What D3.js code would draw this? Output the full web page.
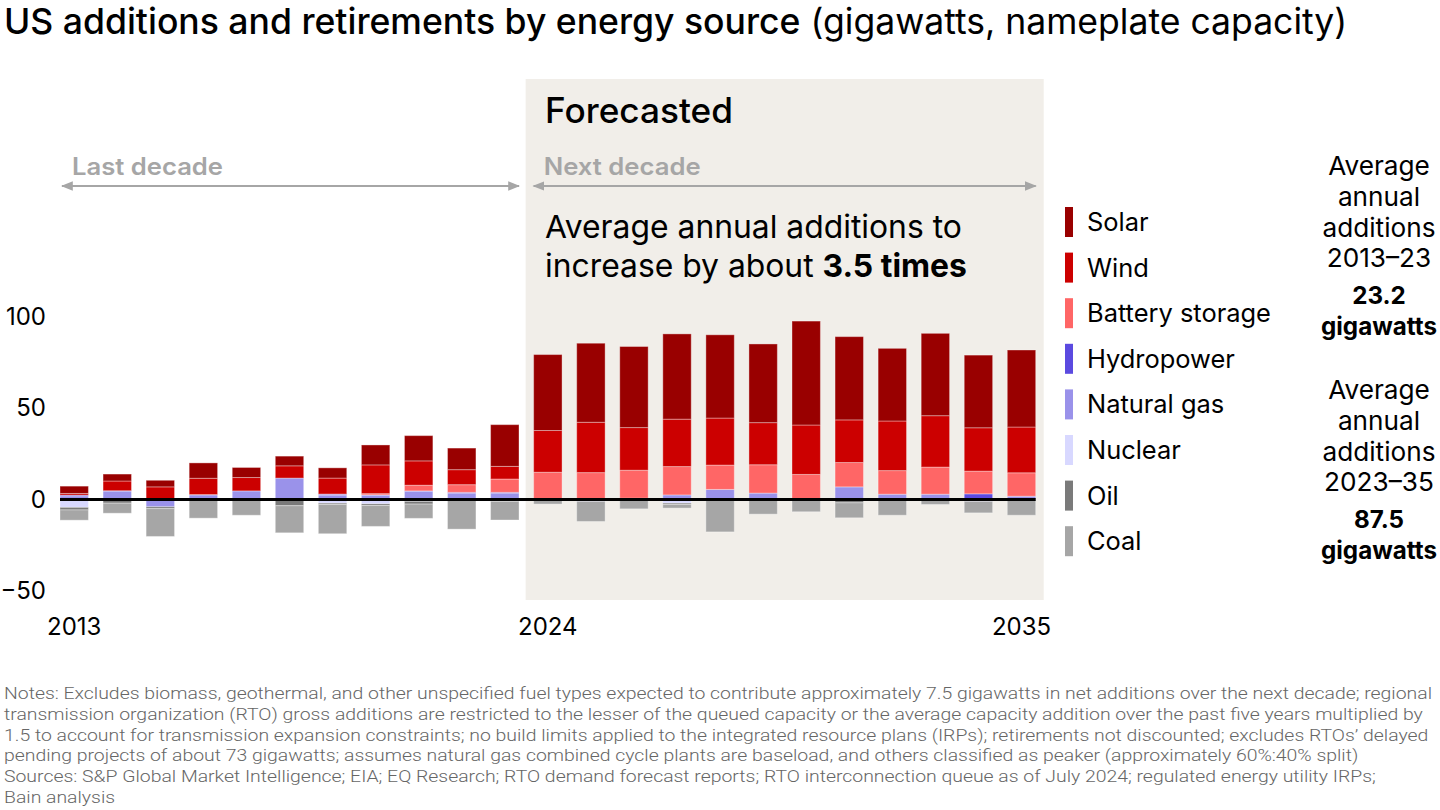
<!DOCTYPE html>
<html>
<head>
<meta charset="utf-8">
<script src="https://cdn.jsdelivr.net/npm/d3@7"></script>
<style>
  body { margin: 0; background: #fff; }
  svg { display: block; font-family: Inter, Roboto, "Noto Sans", sans-serif; }
</style>
</head>
<body>
<script>
// categories
const years = ["2013","2014","2015","2016","2017","2018","2019","2020","2021","2022","2023",
               "2024","2025","2026","2027","2028","2029","2030","2031","2032","2033","2034","2035"];

// net gigawatts per source and year
const solar   = [4.0,3.8,3.6,8.4,5.5,5.3,5.6,10.9,13.8,11.8,22.8, 41.5,43.2,44.3,46.6,45.5,43.0,56.8,45.5,39.7,45.0,39.7,42.1];
const wind    = [0.9,5.3,6.9,8.9,7.3,6.7,8.7,15.7,13.3,8.2,6.9, 22.8,27.5,23.3,25.9,25.7,23.0,27.0,23.3,27.1,28.1,23.7,25.0];
const battery = [0,0,0,0.2,0,0,0.1,0.7,3.1,4.2,7.3, 14.4,14.2,15.3,15.5,13.3,15.5,13.3,13.3,12.9,14.8,12.4,12.8];
const hydro   = [0.4,0.2,0,0,0,0,0.5,0.3,0.3,0.4,0.4, 0.5,0.5,0.7,0,0,0,0,0,0,0,3.1,0];
const gas     = [2.0,4.6,-4.0,2.5,4.7,11.7,2.4,2.2,4.4,3.5,3.5, 0,-1.0,0,2.5,5.5,3.5,0.4,6.9,2.9,2.9,-1.0,1.8];
const nuclear = [-4.3,0,0,0,0,0,-2.0,-2.4,-1.0,0,0, 0,0,0,-2.0,0,0,0,0,0,0,0,0];
const oil     = [-1.4,-2.0,-1.0,0,0,-3.4,-0.7,-0.9,-1.5,0,-1.0, 0,0,0,-0.7,0,0,0,-1.8,0,0,0,0];
const coal    = [-5.6,-5.5,-15.2,-10.2,-8.6,-14.8,-16.0,-11.4,-7.8,-16.2,-10.2, -2.5,-11.0,-5.1,-2.0,-17.7,-8.0,-6.7,-8.2,-8.6,-2.7,-6.3,-8.6];

const sources = ["Solar","Wind","Battery storage","Hydropower","Natural gas","Nuclear","Oil","Coal"];
const values  = [solar, wind, battery, hydro, gas, nuclear, oil, coal];
const colors  = ["#990000","#cc0000","#ff6666","#5b4ae0","#9a92ea","#d8d8ff","#7a7a7a","#a6a6a6"];

const yTicks = [-50, 0, 50, 100];
const xTicks = ["2013","2024","2035"];

const noteLines = [
  "Notes: Excludes biomass, geothermal, and other unspecified fuel types expected to contribute approximately 7.5 gigawatts in net additions over the next decade; regional",
  "transmission organization (RTO) gross additions are restricted to the lesser of the queued capacity or the average capacity addition over the past five years multiplied by",
  "1.5 to account for transmission expansion constraints; no build limits applied to the integrated resource plans (IRPs); retirements not discounted; excludes RTOs\u2019 delayed",
  "pending projects of about 73 gigawatts; assumes natural gas combined cycle plants are baseload, and others classified as peaker (approximately 60%:40% split)",
  "Sources: S&P Global Market Intelligence; EIA; EQ Research; RTO demand forecast reports; RTO interconnection queue as of July 2024; regulated energy utility IRPs;",
  "Bain analysis"
];

const width = 1440, height = 810;
const svg = d3.select("body").append("svg").attr("width", width).attr("height", height);

// scale a text's font size so that it spans the wanted width
function fit(sel, target) {
  const size = +sel.attr("font-size");
  const w = sel.node().getComputedTextLength();
  const s = size * target / w;
  sel.attr("font-size", s);
  return s;
}

const x = d3.scaleBand().domain(years).range([60, 1035.7]).paddingInner(0.34).paddingOuter(0);
const y = d3.scaleLinear().domain([-50, 100]).range([591, 316.5]);

// forecast background
svg.append("rect")
  .attr("x", x("2024") - 8).attr("y", 79)
  .attr("width", x("2035") + x.bandwidth() + 8 - (x("2024") - 8)).attr("height", 521)
  .attr("fill", "#f1eee9");

// title
const title = svg.append("text").attr("x", 4).attr("y", 34).attr("font-size", 30).attr("fill", "#000");
title.append("tspan").attr("font-weight", 500).text("US additions and retirements by energy source");
title.append("tspan").attr("font-weight", 400).text(" (gigawatts, nameplate capacity)");
fit(title, 1344);

fit(svg.append("text").attr("x", 545).attr("y", 123).attr("font-size", 32).attr("font-weight", 500)
  .text("Forecasted"), 188);

// decade arrows
const defs = svg.append("defs");
defs.append("marker").attr("id", "ah").attr("viewBox", "0 0 10 10").attr("refX", 9).attr("refY", 5)
  .attr("markerWidth", 6).attr("markerHeight", 6).attr("orient", "auto-start-reverse")
  .append("path").attr("d", "M0,1 L10,5 L0,9 Z").attr("fill", "#a6a6a6");

const arrows = [
  {label: "Last decade", x1: x("2013") + 2, x2: x("2023") + x.bandwidth(), w: 151},
  {label: "Next decade", x1: x("2024"), x2: x("2035") + x.bandwidth(), w: 157}
];
arrows.forEach(a => {
  svg.append("line").attr("x1", a.x1).attr("x2", a.x2).attr("y1", 186).attr("y2", 186)
    .attr("stroke", "#a6a6a6").attr("stroke-width", 2)
    .attr("marker-start", "url(#ah)").attr("marker-end", "url(#ah)");
  const t = svg.append("text").attr("x", a.x1 + 10).attr("y", 175).attr("font-size", 24).attr("font-weight", 600)
    .attr("fill", "#a6a6a6").text(a.label);
  t.attr("textLength", a.w).attr("lengthAdjust", "spacingAndGlyphs");
});

const t1 = svg.append("text").attr("x", 545).attr("y", 238).attr("font-size", 29).text("Average annual additions to");
const leadSize = fit(t1, 417);
const t2 = svg.append("text").attr("x", 545).attr("y", 277).attr("font-size", leadSize);
t2.append("tspan").text("increase by about ");
t2.append("tspan").attr("font-weight", 700).text("3.5 times");

// stacked bars: positives stack up from zero in reverse legend order,
// negatives stack down from zero in legend order
const segs = [];
years.forEach((yr, i) => {
  let pos = 0;
  for (let k = sources.length - 1; k >= 0; k--) {
    const v = values[k][i];
    if (v > 0) { segs.push({yr, k, y0: pos, y1: pos + v}); pos += v; }
  }
  let neg = 0;
  for (let k = 0; k < sources.length; k++) {
    const v = values[k][i];
    if (v < 0) { segs.push({yr, k, y0: neg + v, y1: neg}); neg += v; }
  }
});

svg.append("g").selectAll("rect").data(segs).join("rect")
  .attr("x", d => x(d.yr))
  .attr("width", x.bandwidth())
  .attr("y", d => y(d.y1))
  .attr("height", d => y(d.y0) - y(d.y1))
  .attr("fill", d => colors[d.k])
  .attr("stroke", "#ffffff").attr("stroke-opacity", 0.35).attr("stroke-width", 1);

// zero line
svg.append("line").attr("x1", x("2013")).attr("x2", x("2035") + x.bandwidth())
  .attr("y1", y(0)).attr("y2", y(0)).attr("stroke", "#000").attr("stroke-width", 3);

// axes
const yAxis = svg.append("g").attr("transform", "translate(46,0)")
  .call(d3.axisLeft(y).tickValues(yTicks).tickSize(0).tickPadding(0));
yAxis.select(".domain").remove();
yAxis.selectAll("text").attr("font-size", 24).attr("font-family", "Inter").attr("fill", "#000");

const xAxis = svg.append("g").attr("transform", "translate(0,612)")
  .call(d3.axisBottom(x).tickValues(xTicks).tickSize(0).tickPadding(6));
xAxis.select(".domain").remove();
xAxis.selectAll("text").attr("font-size", 24).attr("font-family", "Inter").attr("fill", "#000");

// legend
const legend = svg.append("g").attr("transform", "translate(1065,0)");
let legendSize = 25;
sources.forEach((s, i) => {
  const cy = 222 + i * 45.6;
  legend.append("rect").attr("x", 0).attr("y", cy - 15).attr("width", 8).attr("height", 30).attr("fill", colors[i]);
  const t = legend.append("text").attr("x", 22).attr("y", cy).attr("dy", "0.35em").attr("font-size", 25).text(s);
  if (s === "Battery storage") legendSize = fit(t, 184);
});
legend.selectAll("text").attr("font-size", legendSize);

// right annotations
const sideNotes = [
  {lines: ["Average", "annual", "additions", "2013\u201323"], bold: ["23.2", "gigawatts"], top: 166},
  {lines: ["Average", "annual", "additions", "2023\u201335"], bold: ["87.5", "gigawatts"], top: 390}
];
const side = svg.append("g");
const sideBold = svg.append("g");
let sideSize = 26, boldSize = 26;
sideNotes.forEach(n => {
  n.lines.forEach((l, j) => {
    const t = side.append("text").attr("x", 1379).attr("y", n.top + j * 30.7).attr("dy", "0.35em")
      .attr("text-anchor", "middle").attr("font-size", 26).text(l);
    if (l === "additions") sideSize = fit(t, 113);
  });
  n.bold.forEach((l, j) => {
    const t = sideBold.append("text").attr("x", 1379).attr("y", n.top + 130 + j * 31).attr("dy", "0.35em")
      .attr("text-anchor", "middle").attr("font-size", 26).attr("font-weight", 700).text(l);
    if (l === "gigawatts") boldSize = fit(t, 116);
  });
});
side.selectAll("text").attr("font-size", sideSize);
sideBold.selectAll("text").attr("font-size", boldSize);

// footnotes, condensed to the width of the page
const foot = svg.append("g").attr("fill", "#666").attr("font-size", 16.5).attr("font-weight", 300)
  .attr("font-family", "Roboto");
const footTexts = noteLines.map((l, i) => foot.append("text").attr("x", 4).attr("y", 699 + i * 20.8).text(l));
const natural = footTexts[0].node().getComputedTextLength();
const factor = 1428 / natural;
footTexts.forEach(t => {
  const w = t.node().getComputedTextLength();
  t.attr("textLength", w * factor).attr("lengthAdjust", "spacingAndGlyphs");
});
</script>
</body>
</html>
